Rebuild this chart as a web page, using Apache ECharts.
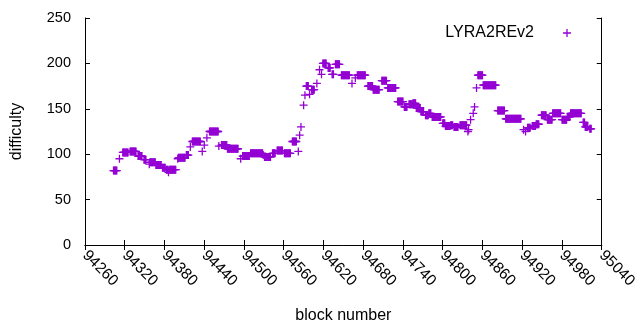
<!DOCTYPE html>
<html>
<head>
<meta charset="utf-8">
<script src="https://cdn.jsdelivr.net/npm/echarts@6/dist/echarts.min.js"></script>
<style>html,body{margin:0;padding:0;background:#fff}#c{width:640px;height:330px}</style>
</head>
<body>
<div id="c"></div>
<script>
const seriesName = 'LYRA2REv2';
const xMin = 94260, xMax = 95040, xStep = 60;
const yMin = 0, yMax = 250, yStep = 50;
// Each row: [first block, difficulty of that block, of the next block, ...]
const difficultyRows = [
  [94303,82,82,82,82,82,82],
  [94312,95],
  [94317,102,102,102,102,102,102,102,102,102],
  [94328,103,103,103,103,103,103,103,103,103,103],
  [94340,98,98,98,98,98,98,98],
  [94349,94,94,94,94],
  [94357,89,91,91,91,91,91,91,91,91,91,88,88,88,88,88,88,88,88,88],
  [94377,85,85,85,85,85],
  [94383,83,83,83,80,83,83,83,83,83,83,83,83,83,83,83],
  [94400,95,96,96,96,96,96,96,96,96,96,96,96],
  [94413,99,99,99,99],
  [94419,108],
  [94422,114,114,114,114,114,114,114,114,114,114,114,114,114],
  [94437,103],
  [94440,110],
  [94444,118],
  [94448,125,125,125,125,125,125,125,125,125,125,125,125,125,125,109],
  [94466,110,110,110,110,110,110,110,110,110,106,106,106,106,106,106,106,106,106,106,106,106,106,106,106,106,106],
  [94495,95],
  [94498,98,98,98,98,98,98,98,98,98,98,98],
  [94510,101,101,101,101,101,101,101,101,101,101,101,101,101,101,101,101,101,101,101,99],
  [94531,97,97,97,97,97,97,97,97,97,97],
  [94543,101,101,101,101,101],
  [94550,104,104,104,104,104,104,104,104,104],
  [94561,101,101,101,101,101,101,101,101,101,101],
  [94573,114,114,114,114,114,114,114],
  [94582,103],
  [94584,121],
  [94586,130],
  [94590,154],
  [94592,165],
  [94594,175,175,175,175],
  [94599,166],
  [94602,171,171,171,171,171],
  [94610,178],
  [94614,193],
  [94617,188],
  [94619,200,200,200,200,200,200],
  [94627,195,195,195,195],
  [94633,188,188,188],
  [94638,199,199,199,199,199,199,199],
  [94647,187,187,187,187,187,187,187,187,187,187,187,187,187],
  [94663,178],
  [94668,184],
  [94671,187,187,187,187,187,187,187,187,187,187,187,187,187],
  [94687,175,175,175,175,175,175,175,175,171,171,171,171,171,171,171,171,171,171],
  [94708,181,181,181,181,181,181,181,181],
  [94717,173,173,173,173,173,173,173,173,173,173,173,173,173],
  [94732,158,158,158,158,158,158,158,158,158],
  [94742,152,152,152,152,152],
  [94749,155,155,155,155,155,155,156,156,156,156,156,151,151,151,151,151,151,151,147,147,147,147,147],
  [94774,143,143,143,143,143,145,145,145,145],
  [94784,141,141,141,141,141,141,141,141,141,141,141,141,141,141],
  [94800,134,134,134,134,131,131,131,131,131,131,131,131,132,132,132,132],
  [94817,130,130,130,130,130,130,130],
  [94826,132,132,132,132,132,132,132,132,132,132,132],
  [94838,125,127],
  [94842,138],
  [94846,145],
  [94848,152],
  [94851,173],
  [94853,187,187,187,187,187,187,187,187,176,176,176,176,176,176,176,176,176,176,176,176,176,176,176,176,176,176,176,176],
  [94883,148,148,148,148,148,148,148,148,148,148,148],
  [94895,139,139,139,139,139,139,139,139,139,139,139,139,139,139,139,139,139,139,139,139,139,139,139,139],
  [94922,127],
  [94925,125],
  [94928,129,129,129,129,129],
  [94935,131,131,131,131,131,131,133,133,133,133,133],
  [94949,143,143,143,143,143,143,143,143],
  [94958,138,138,138,138,138,138,138,138,145,145,145,145,145,145,145,145,145,145,145,145,145],
  [94980,138,138,138,138,138,138,138,138,141,141,141,141,141,145,145,145,145,145,145,145,145,145,145,145,145,145,145,145,145,145],
  [95012,135,135,135,130,130,130,130,130],
  [95022,128,128,128]
];

const points = [];
difficultyRows.forEach(row => {
  for (let i = 1; i < row.length; i++) points.push([row[0] + i - 1, row[i]]);
});

const plus = 'path://M0,4.2H10V5.8H0Z M4.2,0H5.8V10H4.2Z';
const color = '#9400d3';
const font = 'Liberation Sans, Arial, sans-serif';
const black = '#000';

const chart = echarts.init(document.getElementById('c'), null, {renderer: 'canvas'});
chart.setOption({
  animation: false,
  backgroundColor: '#fff',
  grid: {left: 85, right: 30, top: 18, bottom: 85, containLabel: false},
  legend: {
    right: 64, top: 20, align: 'right', itemWidth: 8, itemHeight: 8,
    data: [{name: seriesName, icon: plus}],
    textStyle: {fontFamily: font, fontSize: 16, color: black, padding: [0, 24, 0, 0]}
  },
  xAxis: [{
    type: 'value', min: xMin, max: xMax, interval: xStep, position: 'bottom',
    name: 'block number', nameLocation: 'middle', nameGap: 63,
    nameTextStyle: {fontFamily: font, fontSize: 16, color: black},
    axisLine: {show: true, lineStyle: {color: black, width: 1}},
    axisTick: {show: true, inside: true, length: 5, lineStyle: {color: black}},
    axisLabel: {rotate: -45, fontFamily: font, fontSize: 15.5, color: black, margin: 8,
                formatter: v => String(v)},
    splitLine: {show: false}
  }, {
    type: 'value', min: xMin, max: xMax, interval: xStep, position: 'top',
    axisLine: {show: true, lineStyle: {color: black, width: 1}},
    axisTick: {show: true, inside: true, length: 5, lineStyle: {color: black}},
    axisLabel: {show: false}, splitLine: {show: false}
  }],
  yAxis: [{
    type: 'value', min: yMin, max: yMax, interval: yStep, position: 'left',
    name: 'difficulty', nameLocation: 'middle', nameGap: 60,
    nameTextStyle: {fontFamily: font, fontSize: 16, color: black},
    axisLine: {show: true, lineStyle: {color: black, width: 1}},
    axisTick: {show: true, inside: true, length: 5, lineStyle: {color: black}},
    axisLabel: {fontFamily: font, fontSize: 14.5, color: black, margin: 14},
    splitLine: {show: false}
  }, {
    type: 'value', min: yMin, max: yMax, interval: yStep, position: 'right',
    axisLine: {show: true, lineStyle: {color: black, width: 1}},
    axisTick: {show: true, inside: true, length: 5, lineStyle: {color: black}},
    axisLabel: {show: false}, splitLine: {show: false}
  }],
  series: [{
    name: seriesName, type: 'scatter', data: points,
    symbol: plus, symbolSize: [8, 8],
    itemStyle: {color: color, opacity: 1},
    emphasis: {disabled: true}
  }]
});
</script>
</body>
</html>
